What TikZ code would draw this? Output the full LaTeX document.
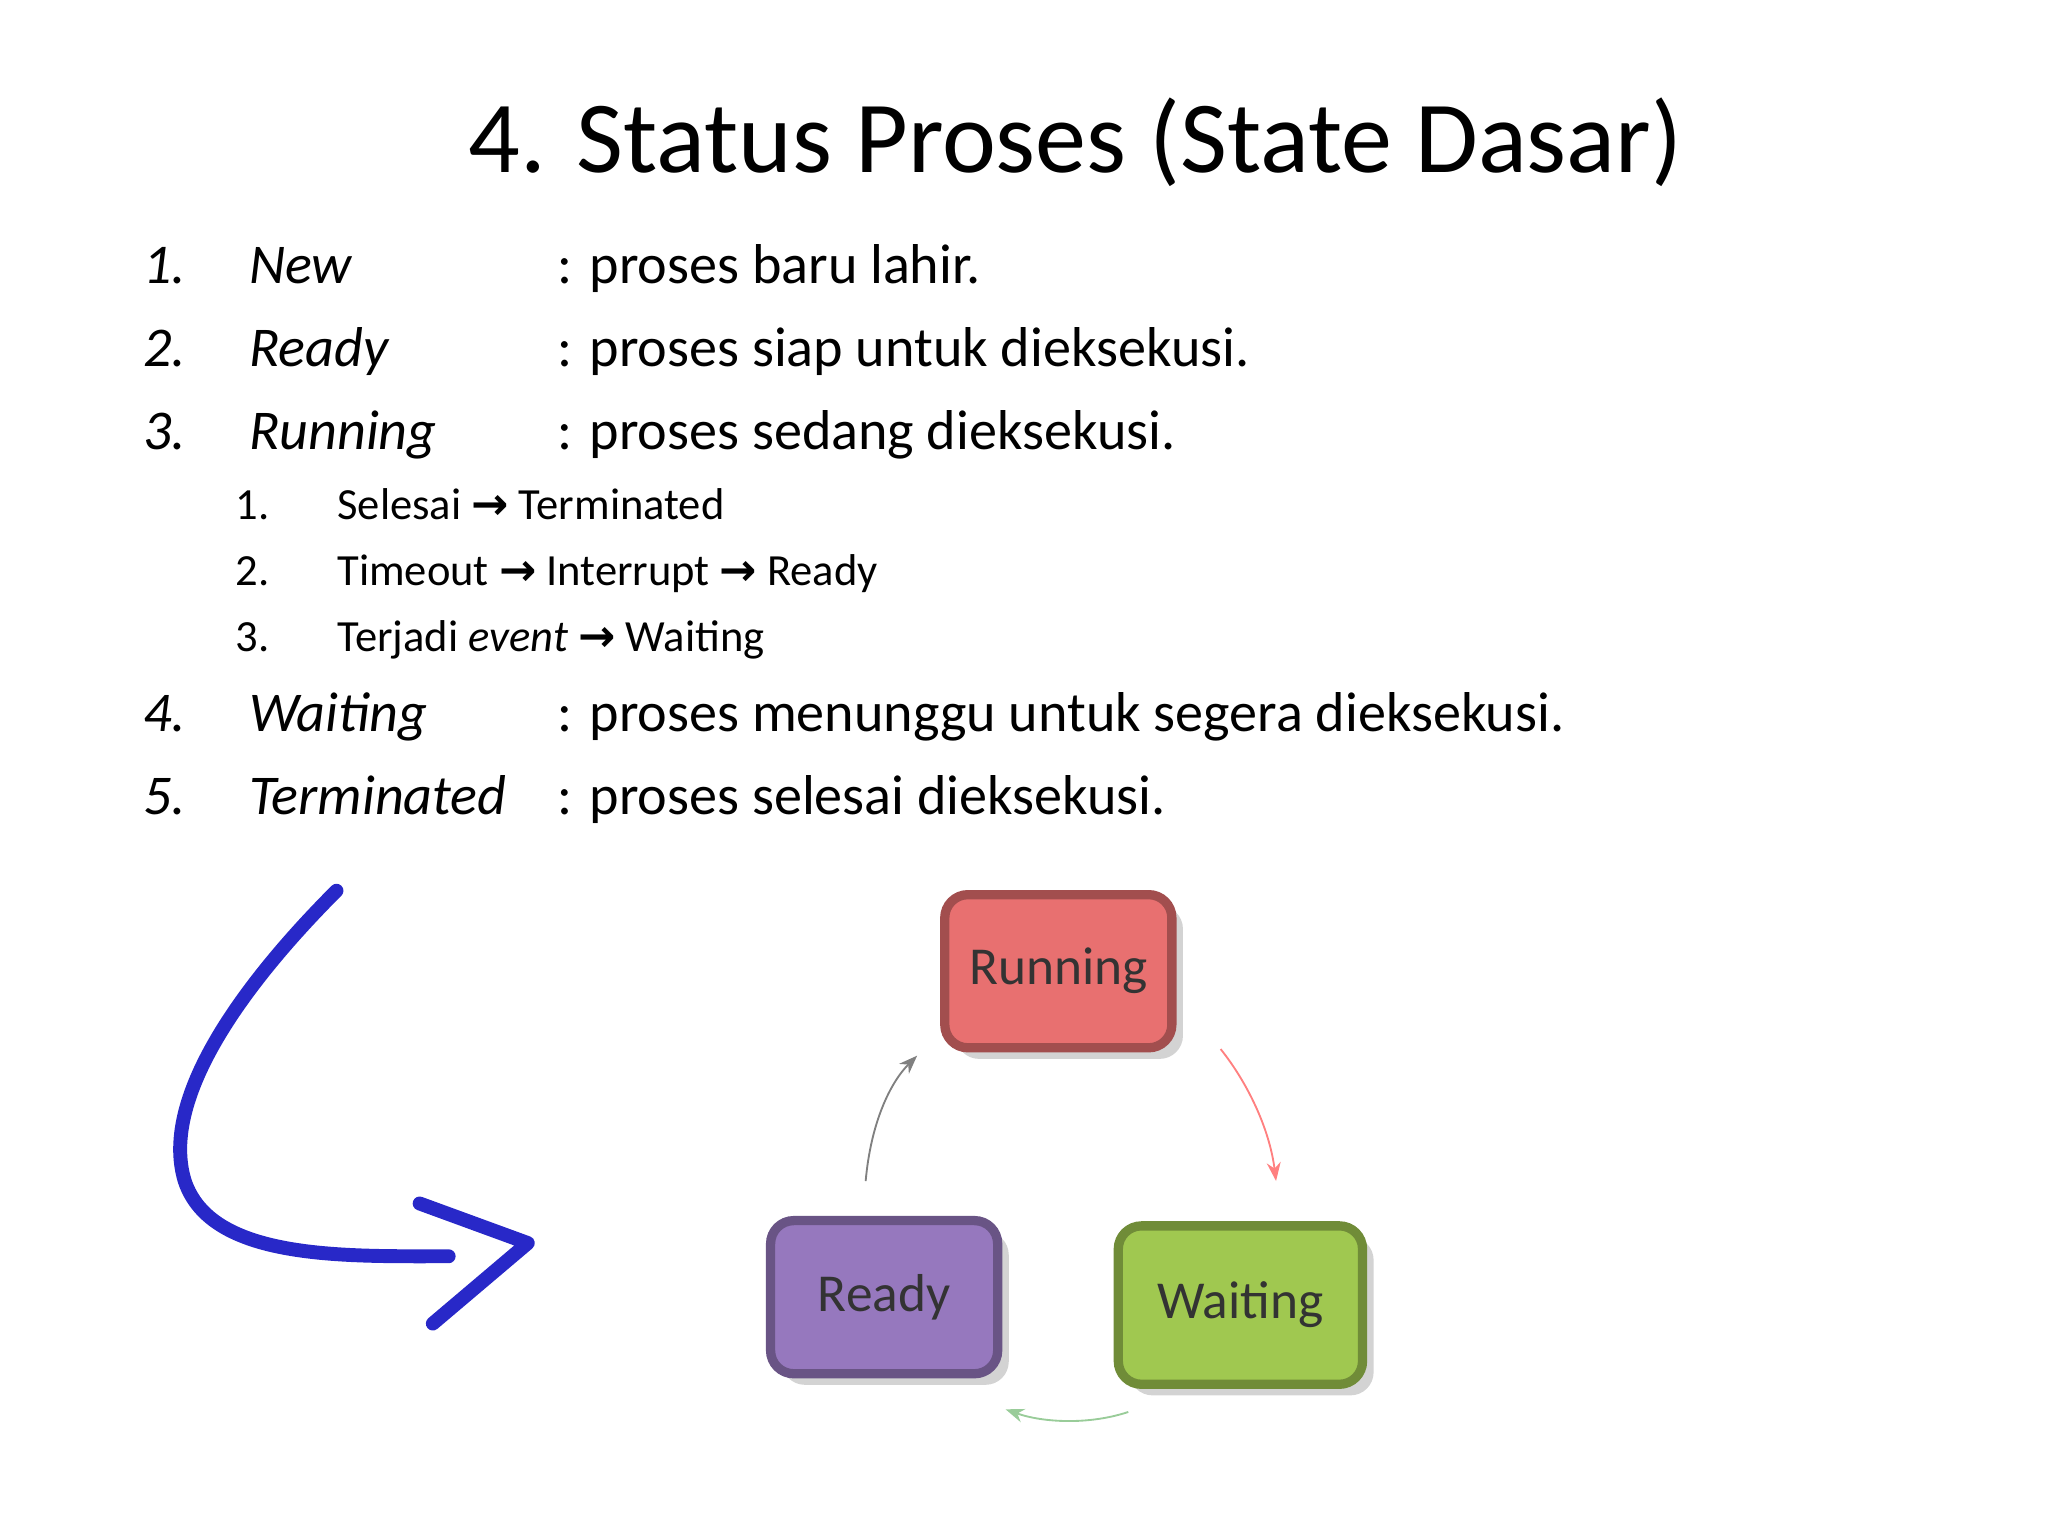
\documentclass[tikz,border=0pt]{standalone}
\usepackage{fontspec}
\setmainfont{Carlito}
\newfontfamily\symf{DejaVu Sans}
\usetikzlibrary{arrows.meta,shadows}
\definecolor{runc}{RGB}{232,112,112}
\definecolor{readc}{RGB}{150,120,190}
\definecolor{waitc}{RGB}{160,200,80}
\definecolor{penblue}{RGB}{40,40,200}
\newcommand{\rarr}{{\symf\bfseries →}}
\tikzset{
 li/.style={anchor=base west,inner sep=0pt,font=\fontsize{12.1pt}{15pt}\selectfont},
 sub/.style={anchor=base west,inner sep=0pt,font=\fontsize{9.6pt}{12pt}\selectfont},
 stbox/.style={draw=#1!70!black,line width=2pt,fill=#1,rounded corners=5pt,minimum width=1.72cm,minimum height=1.16cm,drop shadow={opacity=0.35},font=\fontsize{11.5pt}{14pt}\selectfont,text=black!80},
 thin arrow/.style={-{Stealth[length=4pt]},line width=0.4pt}
}
\begin{document}
\begin{tikzpicture}[x=0.01cm,y=-0.01cm]
\useasboundingbox (0,0) rectangle (1552,1164);
\node[font=\fontsize{22pt}{26pt}\selectfont,inner sep=0pt] (title) at (815,108) {4. Status Proses (State Dasar)};
\foreach \n/\w/\d/\y in {1./New/proses baru lahir./215, 2./Ready/proses siap untuk dieksekusi./278, 3./Running/proses sedang dieksekusi./341, 4./Waiting/proses menunggu untuk segera dieksekusi./554, 5./Terminated/proses selesai dieksekusi./617}{
 \node[li] at (108,\y) {\itshape\n};
 \node[li] at (188,\y) {\itshape\w};
 \node[li] at (422,\y) {: \d};
}
\node[sub] (s1n) at (178,394) {1.};
\node[sub] (s1) at (255,394) {Selesai \rarr{} Terminated};
\node[sub] (s2n) at (178,444) {2.};
\node[sub] (s2) at (255,444) {Timeout \rarr{} Interrupt \rarr{} Ready};
\node[sub] (s3n) at (178,494) {3.};
\node[sub] (s3) at (255,494) {Terjadi \textit{event} \rarr{} Waiting};
% blue hand arrow
\draw[penblue,line width=3pt,line cap=round,line join=round]
 (255,675) .. controls (190,740) and (120,830) .. (140,895)
 .. controls (160,955) and (260,952) .. (340,952);
\draw[penblue,line width=3pt,line cap=round,line join=round]
 (318,912) -- (400,942) -- (328,1003);
% state boxes
\node[stbox=runc] (run) at (802,736) {Running};
\node[stbox=readc] (ready) at (670,983) {Ready};
\node[stbox=waitc,minimum width=1.85cm,minimum height=1.2cm] (wait) at (940,989) {Waiting};
\coordinate (a1) at (656,895); \coordinate (a2) at (695,800);
\coordinate (b1) at (925,795); \coordinate (b2) at (967,895);
\coordinate (c1) at (855,1070); \coordinate (c2) at (762,1068);
\draw[thin arrow,gray] (a1) .. controls (660,850) and (675,820) .. (a2);
\draw[thin arrow,red!50] (b1) .. controls (945,820) and (962,855) .. (b2);
\draw[thin arrow,green!50!black!40] (c1) .. controls (825,1080) and (790,1078) .. (c2);
\end{tikzpicture}
\end{document}
